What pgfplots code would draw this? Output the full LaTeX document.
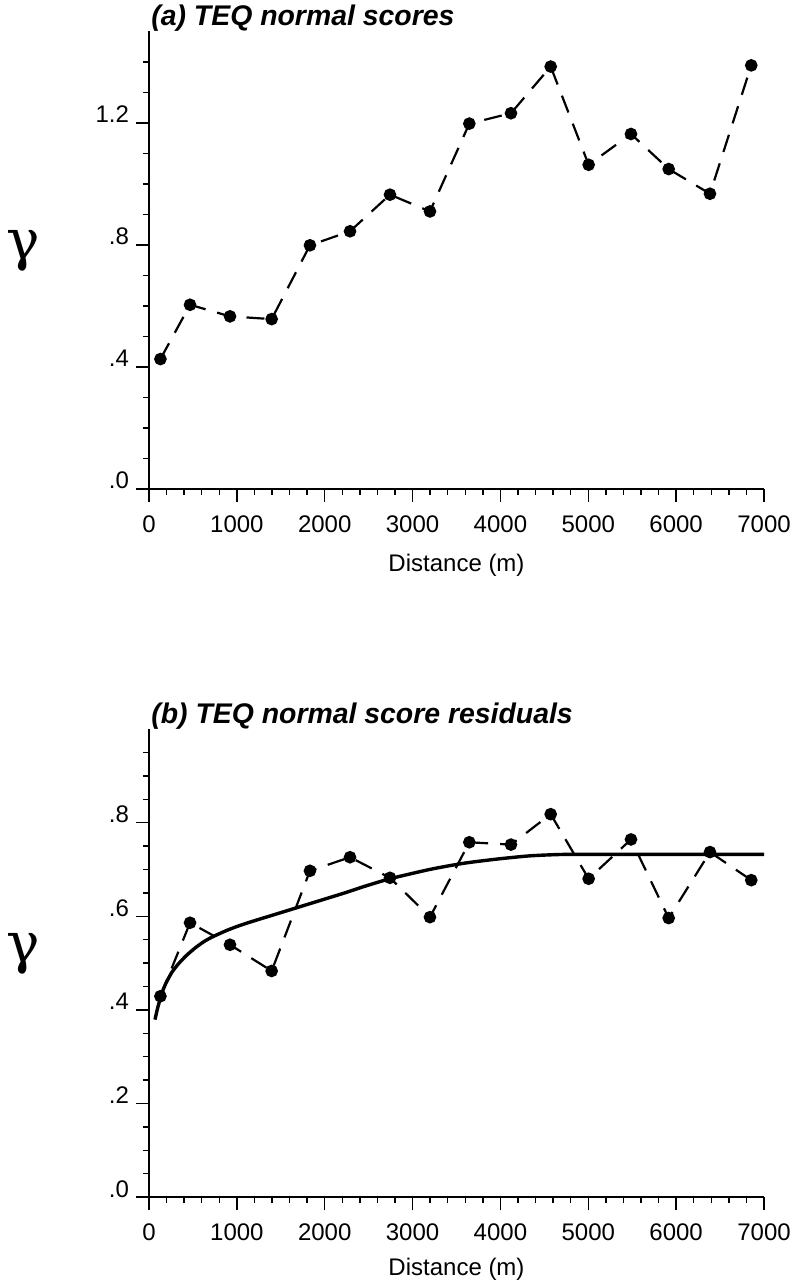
\documentclass[border=0pt]{standalone}
\usepackage{pgfplots}
\pgfplotsset{compat=1.18}
\usepackage{fontspec}
\setmainfont{Liberation Sans}
\newfontfamily\gfont{DejaVu Serif}

\pgfplotsset{
 vario/.style={
  scale only axis, width=307.5pt,
  axis x line*=bottom, axis y line*=left,
  xmin=0, xmax=7000,
  xtick={0,1000,...,7000},
  xticklabels={0,1000,2000,3000,4000,5000,6000,7000},
  minor xtick={200,400,600,800,1200,1400,1600,1800,2200,2400,2600,2800,3200,3400,3600,3800,4200,4400,4600,4800,5200,5400,5600,5800,6200,6400,6600,6800},
  tick align=outside,
  major tick length=6.5pt, minor tick length=3pt,
  axis line style={line width=1.4pt},
  every tick/.style={black, line width=0.7pt},
  tick label style={font=\fontsize{12}{14}\selectfont},
  xticklabel style={yshift=-3.5pt},
  yticklabel style={anchor=base east, xshift=0pt},
  xlabel={Distance (m)},
  xlabel style={font=\fontsize{12}{14}\selectfont, at={(axis description cs:0.5,0)}, anchor=center},
  ylabel={\gfont γ},
  ylabel style={font=\fontsize{28}{28}\selectfont, rotate=-90, at={(axis description cs:-0.205,0.52)}, anchor=center},
  title style={font=\fontsize{14.2}{16}\selectfont\bfseries\itshape, at={(axis description cs:0,1)}, anchor=base west, yshift=-3pt, xshift=1pt, inner sep=0pt},
  /pgf/number format/assume math mode=true,
  clip=false,
 },
 pts/.style={black, line width=1.1pt, dash pattern=on 9pt off 6pt, mark=*, mark size=2.6pt, mark options={solid}},
}

\begin{document}
\begin{tikzpicture}
\useasboundingbox (-74.5pt,-397pt) rectangle (322.5pt,244.5pt);
\begin{axis}[vario, at={(0pt,0pt)}, anchor=south west,
  height=228.75pt, ymin=0, ymax=1.5,
  ytick={0,0.4,0.8,1.2}, yticklabels={.0,.4,.8,1.2},
  minor ytick={0.1,0.2,0.3,0.5,0.6,0.7,0.9,1.0,1.1,1.3,1.4},
  title={(a) TEQ normal scores},
  xlabel style={yshift=-38pt}]
\addplot[pts] coordinates {
(130,0.426) (467,0.604) (922,0.566) (1396,0.557) (1832,0.799) (2288,0.845)
(2743,0.965) (3198,0.910) (3646,1.198) (4120,1.232) (4572,1.385) (5004,1.063)
(5486,1.164) (5915,1.049) (6385,0.968) (6855,1.389)};
\end{axis}
\begin{axis}[vario, at={(0pt,-354pt)}, anchor=south west,
  height=234pt, ymin=0, ymax=1.0,
  ytick={0,0.2,0.4,0.6,0.8}, yticklabels={.0,.2,.4,.6,.8},
  minor ytick={0.05,0.1,0.15,0.25,0.3,0.35,0.45,0.5,0.55,0.65,0.7,0.75,0.85,0.9,0.95},
  title={(b) TEQ normal score residuals},
  xlabel style={yshift=-36pt}]
\addplot[pts] coordinates {
(130,0.429) (467,0.586) (922,0.539) (1396,0.483) (1832,0.697) (2288,0.726)
(2743,0.682) (3198,0.598) (3646,0.758) (4120,0.753) (4572,0.818) (5004,0.680)
(5486,0.764) (5915,0.596) (6385,0.737) (6855,0.677)};
\addplot[black, line width=1.7pt, smooth, tension=0.4] coordinates {
(68,0.379) (100,0.405) (150,0.437) (193,0.457) (260,0.480) (334,0.498)
(420,0.515) (524,0.532) (620,0.545) (713,0.555) (903,0.571) (1093,0.584)
(1472,0.606) (1852,0.628) (2231,0.650) (2440,0.663) (2743,0.680) (3198,0.700)
(3578,0.713) (3957,0.722) (4337,0.729) (4716,0.732) (5200,0.732) (7000,0.732)};
\end{axis}
\end{tikzpicture}
\end{document}
